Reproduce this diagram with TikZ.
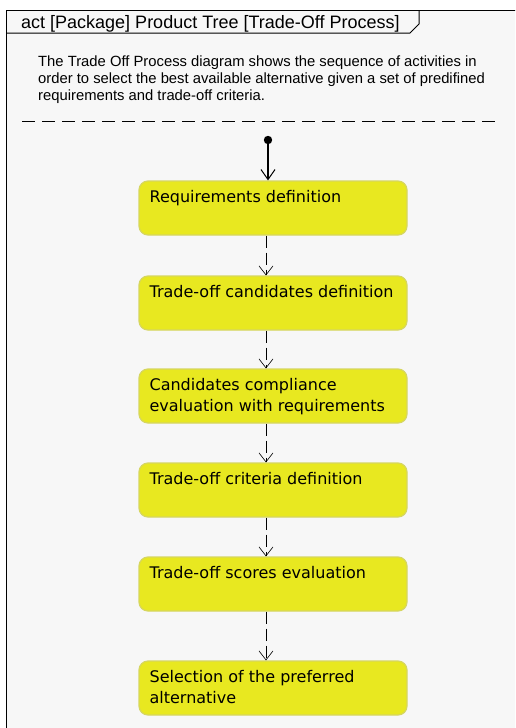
\documentclass[tikz,border=0pt]{standalone}
\usepackage{fontspec}
\setmainfont{Liberation Sans}
\newfontfamily\boxfont{DejaVu Sans}
\usetikzlibrary{arrows.meta}
\definecolor{framebg}{RGB}{247,247,247}
\definecolor{actfill}{RGB}{232,232,32}
\definecolor{actedge}{RGB}{214,214,96}
\tikzset{
  activity/.style={draw=actedge, line width=1.2pt, fill=actfill, rounded corners=9pt,
    minimum width=268pt, minimum height=54pt, inner sep=0pt},
  % the base anchor of a multi-line text is the baseline of its last line
  acttext/.style={anchor=base west, font=\boxfont\fontsize{16}{21.5}\selectfont,
    align=left, inner sep=0pt},
  flow/.style={draw=black, line width=0.6pt, dash pattern=on 12pt off 5pt,
    -{Straight Barb[length=9pt,width=14pt,line width=0.6pt]}},
  startflow/.style={draw=black, line width=1.1pt,
    -{Straight Barb[length=10pt,width=14pt,line width=1pt]}},
}
\begin{document}
\begin{tikzpicture}[x=1pt,y=-1pt]
\useasboundingbox (0,0) rectangle (515,728);
\fill[white] (0,0) rectangle (515,728);
\begin{scope}
\clip (0,0) rectangle (515,728);
% diagram frame
\draw[fill=framebg, line width=1pt] (6,10) rectangle (530,740);
% name tab
\draw[line width=1pt] (6,33) -- (410,33) -- (419,24) -- (419,10);
\end{scope}
\node[anchor=base west, font=\fontsize{18}{21}\selectfont, inner sep=0pt] (title) at (21,28.5)
  {act [Package] Product Tree [Trade-Off Process]};
\node[anchor=base west, align=left, font=\fontsize{14.8}{16.7}\selectfont, inner sep=0pt] (note) at (38,100)
  {The Trade Off Process diagram shows the sequence of activities in\\
   order to select the best available alternative given a set of predifined\\
   requirements and trade-off criteria.};
\coordinate (sepL) at (22,121);
\coordinate (sepR) at (497,121);
\draw[line width=0.8pt, dash pattern=on 13pt off 7pt] (sepL) -- (sepR);

% initial node
\fill (268,140) circle (4.2pt);
\node[circle, inner sep=0pt, minimum size=8.4pt] (start) at (268,140) {};

% activities
\node[activity] (a1) at (273,208) {};
\node[activity] (a2) at (273,303) {};
\node[activity] (a3) at (273,396) {};
\node[activity] (a4) at (273,490) {};
\node[activity] (a5) at (273,584) {};
\node[activity] (a6) at (273,688) {};
\node[acttext] (t1) at ([xshift=11pt,yshift=-22.5pt]a1.north west) {Requirements definition};
\node[acttext] (t2) at ([xshift=11pt,yshift=-22.5pt]a2.north west) {Trade-off candidates definition};
\node[acttext] (t3) at ([xshift=11pt,yshift=-43.5pt]a3.north west) {Candidates compliance\\evaluation with requirements};
\node[acttext] (t4) at ([xshift=11pt,yshift=-22.5pt]a4.north west) {Trade-off criteria definition};
\node[acttext] (t5) at ([xshift=11pt,yshift=-22.5pt]a5.north west) {Trade-off scores evaluation};
\node[acttext] (t6) at ([xshift=11pt,yshift=-43.5pt]a6.north west) {Selection of the preferred\\alternative};

% control flows
\draw[startflow] (start.south) -- (a1.north -| start.south);
\foreach \u/\v in {a1/a2, a2/a3, a3/a4, a4/a5, a5/a6}{
  \draw[flow] ([xshift=-7pt]\u.south) -- ([xshift=-7pt]\v.north);
}
\end{tikzpicture}
\end{document}
